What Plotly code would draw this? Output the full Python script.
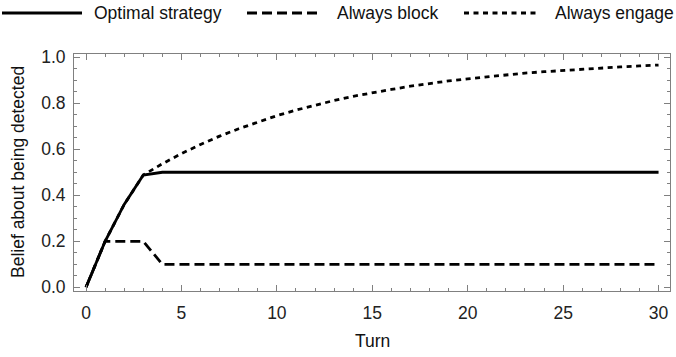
import plotly.graph_objects as go

turns = list(range(31))
optimal = [0.0, 0.2, 0.36, 0.488, 0.5, 0.5, 0.5, 0.5, 0.5, 0.5, 0.5,
           0.5, 0.5, 0.5, 0.5, 0.5, 0.5, 0.5, 0.5, 0.5, 0.5,
           0.5, 0.5, 0.5, 0.5, 0.5, 0.5, 0.5, 0.5, 0.5, 0.5]
always_block = [0.0, 0.2, 0.2, 0.2, 0.1, 0.1, 0.1, 0.1, 0.1, 0.1, 0.1,
                0.1, 0.1, 0.1, 0.1, 0.1, 0.1, 0.1, 0.1, 0.1, 0.1,
                0.1, 0.1, 0.1, 0.1, 0.1, 0.1, 0.1, 0.1, 0.1, 0.1]
always_engage = [0.0, 0.2, 0.36, 0.488, 0.537, 0.581, 0.621, 0.657, 0.689, 0.719, 0.746,
                 0.770, 0.792, 0.812, 0.830, 0.846, 0.860, 0.874, 0.886, 0.897, 0.906,
                 0.915, 0.923, 0.931, 0.937, 0.943, 0.949, 0.954, 0.958, 0.962, 0.966]
series_names = ["Optimal strategy", "Always block", "Always engage"]
x_ticks = [0, 5, 10, 15, 20, 25, 30]
y_ticks = [0.0, 0.2, 0.4, 0.6, 0.8, 1.0]

W, H = 676, 357
L, R, T, B = 74, 6, 54, 66
pw, ph = W - L - R, H - T - B

def px2x(px):
    return (px - L) / pw

def py2y(py):
    return (H - B - py) / ph

FONT = "Liberation Sans, Arial, Helvetica, sans-serif"
AX = "#808080"
DASH = "10px,5px"
DOT = "5px,4.5px"
FS = 17.5

fig = go.Figure()
fig.add_trace(go.Scatter(x=turns, y=always_engage, mode="lines", name=series_names[2],
                         line=dict(color="black", width=2.8, dash=DOT), showlegend=False))
fig.add_trace(go.Scatter(x=turns, y=always_block, mode="lines", name=series_names[1],
                         line=dict(color="black", width=2.8, dash=DASH), showlegend=False))
fig.add_trace(go.Scatter(x=turns, y=optimal, mode="lines", name=series_names[0],
                         line=dict(color="black", width=2.8), showlegend=False))

axis_common = dict(
    showgrid=False, zeroline=False, showline=True, linecolor=AX, linewidth=1,
    mirror="ticks", ticks="inside", tickcolor=AX, ticklen=6, tickwidth=1,
    tickfont=dict(family=FONT, size=FS, color="#222"), automargin=False,
)
fig.update_xaxes(range=[-0.63, 30.6], tickvals=x_ticks, ticktext=[str(v) for v in x_ticks],
                 minor=dict(ticks="inside", dtick=1, tick0=0, ticklen=3, tickcolor=AX, showgrid=False),
                 ticklabelstandoff=6, **axis_common)
fig.update_yaxes(range=[-0.016, 1.014], tickvals=y_ticks, ticktext=[f"{v:.1f}" for v in y_ticks],
                 minor=dict(ticks="inside", dtick=0.05, tick0=0, ticklen=3, tickcolor=AX, showgrid=False),
                 ticklabelstandoff=4, **axis_common)

shapes = []
annotations = []
legend_items = [
    (series_names[0], None, 2, 82, 92),
    (series_names[1], DASH, 247, 320, 335),
    (series_names[2], DOT, 464, 538, 553),
]
ly = py2y(13)
for name, dash, x0, x1, tx in legend_items:
    ln = dict(color="black", width=2.8)
    if dash:
        ln["dash"] = dash
    shapes.append(dict(type="line", xref="paper", yref="paper", x0=px2x(x0), x1=px2x(x1),
                       y0=ly, y1=ly, line=ln))
    annotations.append(dict(text=name, xref="paper", yref="paper", x=px2x(tx), y=ly,
                            xanchor="left", yanchor="middle", showarrow=False,
                            font=dict(family=FONT, size=FS, color="#111")))

annotations.append(dict(text="Turn", xref="paper", yref="paper", x=0.5, y=py2y(341),
                        xanchor="center", yanchor="middle", showarrow=False,
                        font=dict(family=FONT, size=FS, color="#111")))
annotations.append(dict(text="Belief about being detected", xref="paper", yref="paper",
                        x=px2x(18), y=py2y(172), textangle=-90,
                        xanchor="center", yanchor="middle", showarrow=False,
                        font=dict(family=FONT, size=FS, color="#111")))

fig.update_layout(width=W, height=H, margin=dict(l=L, r=R, t=T, b=B, pad=0, autoexpand=False),
                  plot_bgcolor="white", paper_bgcolor="white",
                  shapes=shapes, annotations=annotations, showlegend=False)

fig.write_html("out.html", config={"displayModeBar": False},
               post_script="document.body.style.margin='0px';")
